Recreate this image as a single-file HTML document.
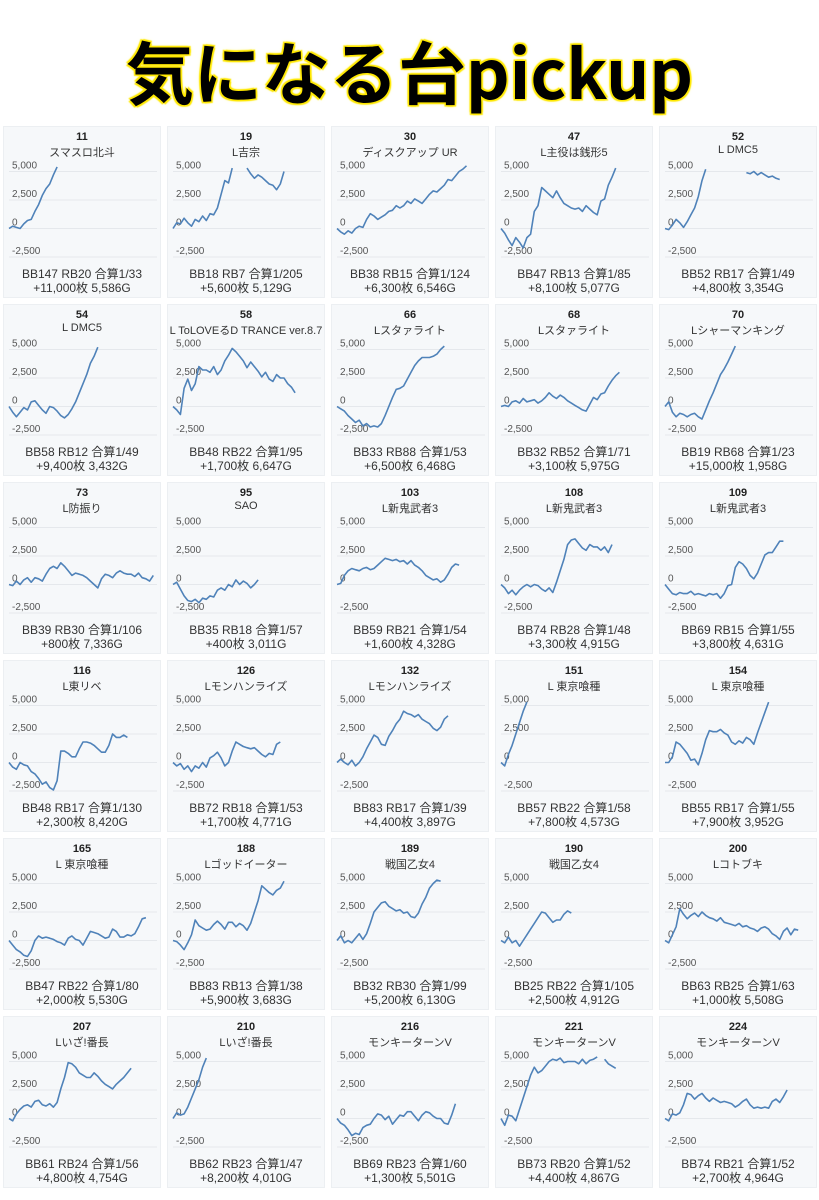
<!DOCTYPE html>
<html><head><meta charset="utf-8"><style>
body{margin:0;width:819px;height:1200px;background:#fff;overflow:hidden;font-family:"Liberation Sans","Noto Sans CJK JP",sans-serif;position:relative}
#title{position:absolute;left:0;top:22px;width:819px;text-align:center;font-size:68px;font-weight:bold;color:#000;line-height:96px;
text-shadow:0 0 1px #ffe800,1.5px 1.5px 1px #ffe800,-1.5px -1.5px 1px #ffe800,1.5px -1.5px 1px #ffe800,-1.5px 1.5px 1px #ffe800,0 0 4px #fff36a;font-family:"Noto Sans CJK JP","Liberation Sans",sans-serif}
.cell{position:absolute;width:158px;height:172px;background:#f6f8fa;border:1px solid #eceff2;box-sizing:border-box}
.num{position:absolute;top:4px;width:100%;text-align:center;font-size:11px;font-weight:bold;color:#222}
.nm{position:absolute;top:17px;width:100%;text-align:center;font-size:11px;color:#333;white-space:nowrap}
.st{position:absolute;width:100%;text-align:center;font-size:12px;color:#333;line-height:14px}
svg{position:absolute;left:0;top:0}
</style></head><body>
<div id="title">気になる台pickup</div>
<div id="grid"></div>
<script>
const ids=["11","19","30","47","52","54","58","66","68","70","73","95","103","108","109","116","126","132","151","154","165","188","189","190","200","207","210","216","221","224"];
const names=["スマスロ北斗","L吉宗","ディスクアップ UR","L主役は銭形5","L DMC5","L DMC5","L ToLOVEるD TRANCE ver.8.7","Lスタァライト","Lスタァライト","Lシャーマンキング","L防振り","SAO","L新鬼武者3","L新鬼武者3","L新鬼武者3","L東リベ","Lモンハンライズ","Lモンハンライズ","L 東京喰種","L 東京喰種","L 東京喰種","Lゴッドイーター","戦国乙女4","戦国乙女4","Lコトブキ","Lいざ!番長","Lいざ!番長","モンキーターンV","モンキーターンV","モンキーターンV"];
const stats1=["BB147 RB20 合算1/33","BB18 RB7 合算1/205","BB38 RB15 合算1/124","BB47 RB13 合算1/85","BB52 RB17 合算1/49","BB58 RB12 合算1/49","BB48 RB22 合算1/95","BB33 RB88 合算1/53","BB32 RB52 合算1/71","BB19 RB68 合算1/23","BB39 RB30 合算1/106","BB35 RB18 合算1/57","BB59 RB21 合算1/54","BB74 RB28 合算1/48","BB69 RB15 合算1/55","BB48 RB17 合算1/130","BB72 RB18 合算1/53","BB83 RB17 合算1/39","BB57 RB22 合算1/58","BB55 RB17 合算1/55","BB47 RB22 合算1/80","BB83 RB13 合算1/38","BB32 RB30 合算1/99","BB25 RB22 合算1/105","BB63 RB25 合算1/63","BB61 RB24 合算1/56","BB62 RB23 合算1/47","BB69 RB23 合算1/60","BB73 RB20 合算1/52","BB74 RB21 合算1/52"];
const stats2=["+11,000枚 5,586G","+5,600枚 5,129G","+6,300枚 6,546G","+8,100枚 5,077G","+4,800枚 3,354G","+9,400枚 3,432G","+1,700枚 6,647G","+6,500枚 6,468G","+3,100枚 5,975G","+15,000枚 1,958G","+800枚 7,336G","+400枚 3,011G","+1,600枚 4,328G","+3,300枚 4,915G","+3,800枚 4,631G","+2,300枚 8,420G","+1,700枚 4,771G","+4,400枚 3,897G","+7,800枚 4,573G","+7,900枚 3,952G","+2,000枚 5,530G","+5,900枚 3,683G","+5,200枚 6,130G","+2,500枚 4,912G","+1,000枚 5,508G","+4,800枚 4,754G","+8,200枚 4,010G","+1,300枚 5,501G","+4,400枚 4,867G","+2,700枚 4,964G"];
const yTicks=[5000,2500,0,-2500];
const yTickLabels=["5,000","2,500","0","-2,500"];
const N=null;
const series=[
[0,0.2,0.1,0.0,0.4,0.7,0.8,1.5,2.1,2.9,3.5,3.9,4.7,5.4],
[0,0.5,0.4,0.9,0.5,0.2,0.8,0.6,1.1,0.7,1.3,1.2,1.8,3.0,4.2,4.0,5.3,N,N,N,5.3,4.8,4.4,4.7,4.5,4.2,3.9,3.8,3.4,3.9,5.0],
[0,-0.3,-0.5,-0.2,-0.4,0.0,0.2,0.1,0.8,1.3,1.1,0.8,1.0,1.2,1.5,1.6,2.0,1.8,2.0,2.4,2.2,2.6,2.4,2.2,2.6,3.0,3.3,3.2,3.5,3.8,4.3,4.2,4.6,5.0,5.2,5.5],
[0,-0.4,-1.0,-1.5,-0.8,-1.2,-1.7,-0.8,-0.5,1.5,2.0,3.6,3.3,3.0,2.7,3.3,2.7,2.2,2.0,1.8,1.7,1.8,1.5,2.0,1.7,1.4,1.2,2.4,2.6,3.8,4.5,5.3],
[0,-0.1,0.3,0.8,0.5,0.1,0.6,1.2,1.8,2.8,4.2,5.2,N,N,N,N,N,N,N,N,N,N,4.9,4.8,5.0,4.7,4.9,4.7,4.5,4.6,4.4,4.3],
[0,-0.5,-0.9,-0.5,-0.1,-0.3,0.4,0.5,0.1,-0.3,-0.6,0.0,-0.1,-0.4,-0.8,-1.0,-0.7,-0.2,0.4,1.2,2.0,2.8,3.8,4.4,5.2],
[0,-0.3,-0.7,1.6,2.4,1.4,2.0,3.5,3.2,3.2,3.0,3.5,2.8,3.2,4.0,4.5,5.1,4.8,4.4,4.0,3.4,3.9,3.5,3.1,2.6,3.0,2.4,2.2,2.8,2.5,2.5,2.0,1.7,1.2],
[0,-0.2,-0.4,-0.8,-1.1,-1.4,-1.2,-1.7,-1.5,-1.8,-1.7,-1.8,-1.5,-0.8,0.0,0.8,1.5,1.6,1.8,2.4,3.0,3.6,4.0,4.3,4.3,4.3,4.4,4.6,5.0,5.3],
[0,0.1,0.0,0.4,0.5,0.3,0.7,0.4,0.5,0.6,0.3,0.5,0.8,1.2,0.9,0.7,1.0,0.8,0.5,0.3,0.1,-0.1,-0.3,-0.4,0.2,0.8,0.6,1.1,1.2,1.8,2.3,2.7,3.0],
[0,0.4,-0.5,-0.9,-0.6,-0.7,-0.9,-0.7,-0.6,-0.9,-1.1,-0.3,0.5,1.2,2.0,2.8,3.3,3.9,4.6,5.3],
[0,-0.1,0.3,0.0,0.4,0.6,0.2,0.6,0.5,0.3,0.9,1.4,1.6,1.4,1.9,1.6,1.2,0.8,1.0,0.9,0.8,0.6,0.3,0.0,-0.3,0.5,0.9,0.8,0.6,1.0,1.2,1.0,0.9,0.9,0.7,1.0,0.6,0.5,0.3,0.8],
[0,0.2,-0.4,-1.0,-1.4,-1.5,-1.3,-1.6,-1.2,-1.3,-1.0,-1.1,-0.5,-0.3,-0.5,0.0,-0.2,0.4,0.0,0.3,0.1,-0.3,0.0,0.4],
[0,0.1,0.8,1.2,1.4,1.3,1.2,1.4,1.5,1.3,1.4,1.7,2.0,2.3,2.2,2.1,2.2,2.0,2.1,1.8,2.1,1.7,1.5,1.2,0.8,0.6,0.4,0.5,0.2,0.4,0.9,1.5,1.8,1.7],
[0,-0.3,-0.8,-0.5,-0.9,-0.5,-0.2,0.0,-0.2,0.0,-0.1,-0.4,-0.6,-0.3,-0.7,0.2,1.2,2.2,3.5,3.9,4.0,3.6,3.2,3.0,3.5,3.3,3.3,3.0,3.3,2.8,3.5],
[0,-0.4,-0.8,-0.9,-0.7,-0.8,-0.8,-0.6,-0.9,-0.8,-0.9,-1.0,-0.8,-0.9,-0.8,-1.2,-0.8,-0.1,0.0,1.5,2.0,1.8,1.4,0.8,0.5,1.0,1.8,2.6,2.8,2.8,3.3,3.8,3.8],
[0,-0.4,-0.6,0.0,-0.2,-0.3,-0.8,-1.0,-1.4,-1.9,-1.7,-2.2,-2.4,-1.6,1.0,1.0,0.8,0.5,0.5,1.2,1.8,1.8,1.7,1.5,1.2,0.9,0.9,1.5,2.5,2.2,2.2,2.4,2.2],
[0,-0.3,-0.1,-0.6,-0.3,-0.8,-0.3,-0.5,0.0,-0.4,0.4,0.6,0.9,0.4,-0.3,0.0,1.0,1.8,1.6,1.4,1.3,1.2,1.3,1.0,0.7,0.5,0.8,0.7,1.6,1.8],
[0,0.3,0.0,-0.2,0.2,-0.3,0.0,0.5,1.2,1.8,2.4,2.2,1.6,1.5,2.3,2.8,3.4,3.8,4.5,4.3,4.2,4.0,4.2,3.8,3.6,3.4,3.0,2.8,3.1,3.8,4.1],
[0,-0.3,0.7,1.5,2.5,3.5,4.5,5.3],
[0,0.0,0.5,1.8,1.6,1.2,0.8,0.2,0.3,-0.2,0.8,2.0,2.8,2.7,2.7,2.9,2.6,2.4,1.8,1.6,1.9,1.7,2.2,2.0,1.6,2.6,3.5,4.4,5.3],
[0,-0.4,-0.8,-1.0,-1.3,-1.4,-0.9,0.0,0.4,0.2,0.3,0.2,0.1,-0.1,-0.2,-0.4,0.2,0.4,0.1,0.0,-0.4,0.2,0.8,0.7,0.6,0.4,0.2,0.3,1.0,0.8,0.3,0.3,0.5,0.4,0.6,1.2,1.9,2.0],
[0,-0.1,-0.4,-0.8,-0.2,0.5,1.8,1.3,1.1,0.9,1.0,1.4,1.7,1.4,1.0,1.6,1.6,1.2,1.5,1.3,0.9,1.5,2.5,3.5,4.8,4.5,4.2,4.0,4.4,4.6,5.2],
[0,0.4,-0.2,0.0,-0.2,0.2,0.6,0.1,0.6,1.5,2.5,2.9,3.3,3.4,3.0,2.8,2.6,2.7,2.4,2.5,2.1,2.0,2.4,3.2,3.8,4.6,5.0,5.3,5.2],
[0,-0.2,0.3,-0.2,0.0,-0.5,0.0,0.5,1.0,1.5,2.0,2.5,2.4,2.0,1.6,1.8,1.8,2.3,2.6,2.4],
[0,-0.2,0.5,1.2,2.8,2.3,1.9,2.2,2.4,2.1,2.5,2.2,2.0,1.9,1.7,2.0,1.6,1.5,1.4,1.3,1.5,1.2,1.3,1.1,1.0,0.8,1.1,1.2,1.0,0.6,0.4,0.1,0.8,1.1,0.5,1.0,0.9],
[0,-0.2,0.4,0.8,1.1,1.2,1.0,1.5,1.6,1.2,1.1,1.3,1.0,1.4,2.6,3.6,4.9,4.8,4.5,4.0,3.8,3.6,3.6,4.0,3.7,3.3,3.0,2.8,2.6,3.0,3.3,3.6,4.0,4.4],
[0,0.5,0.3,0.4,1.0,1.8,2.6,3.4,4.5,5.3],
[0,-0.4,-0.6,-1.0,-1.5,-1.3,-1.4,-0.8,-0.6,-0.5,0.0,0.4,0.3,-0.1,0.2,-0.5,-0.1,0.3,0.2,0.6,0.6,0.2,-0.2,0.3,0.6,0.5,0.2,0.0,0.0,-0.4,-0.5,0.3,1.3],
[0,-0.6,0.3,0.2,-0.2,0.8,1.8,2.8,3.8,4.5,4.0,4.2,4.6,5.0,5.2,5.1,5.3,4.9,5.0,5.0,5.0,4.8,5.2,4.8,5.1,5.2,5.4,N,5.2,4.8,4.6,4.4],
[0,-0.2,0.4,0.3,0.5,1.2,2.2,2.1,1.7,2.0,2.2,1.8,1.5,1.8,1.6,1.4,1.5,1.4,1.3,1.0,1.2,1.5,1.7,1.2,0.9,1.0,0.9,1.0,0.9,1.5,1.7,1.4,1.9,2.5]
];
const XMAX=40;
const PL=5,PW=148,Y0=101.5,PX_PER=28.5/2500;
const xS=i=>PL+i*PW/XMAX;
const yS=v=>Y0-v*PX_PER;
const g=document.getElementById('grid');
const NS='http://www.w3.org/2000/svg';
ids.forEach((id,k)=>{
  const c=document.createElement('div');c.className='cell';
  
  
  c.style.left=(3+(k%5)*164)+'px';c.style.top=(126+Math.floor(k/5)*178)+'px';
  let h='<div class="num">'+id+'</div>';
  h+='<div class="nm">'+names[k]+'</div>';
  h+='<div class="st" style="top:140px">'+stats1[k]+'</div>';
  h+='<div class="st" style="top:154px">'+stats2[k]+'</div>';
  c.innerHTML=h;
  const s=document.createElementNS(NS,'svg');s.setAttribute('width','158');s.setAttribute('height','172');
  
  
  let inner='<defs><clipPath id="cp'+k+'"><rect x="0" y="'+yS(5600)+'" width="158" height="120"/></clipPath></defs>';
  yTicks.forEach((t,j)=>{
    inner+='<line x1="'+PL+'" x2="'+(PL+PW)+'" y1="'+yS(t)+'" y2="'+yS(t)+'" stroke="#e5e8ec" stroke-width="1"/>';
    inner+='<text x="'+(PL+3)+'" y="'+(yS(t)-3)+'" font-size="10" fill="#555" font-family="Liberation Sans,sans-serif">'+yTickLabels[j]+'</text>';
  });
  let d='',pen=false;
  series[k].forEach((v,i)=>{
    if(v===null){pen=false;return;}
    d+=(pen?'L':'M')+xS(i).toFixed(1)+' '+yS(v*1000).toFixed(1);pen=true;
  });
  inner+='<path d="'+d+'" fill="none" stroke="#4f82b9" stroke-width="1.6" stroke-linejoin="round" clip-path="url(#cp'+k+')"/>';
  s.innerHTML=inner;
  c.insertBefore(s,c.firstChild);
  const p=s.querySelector('path');
  
  
  g.appendChild(c);
});
</script>
</body></html>
